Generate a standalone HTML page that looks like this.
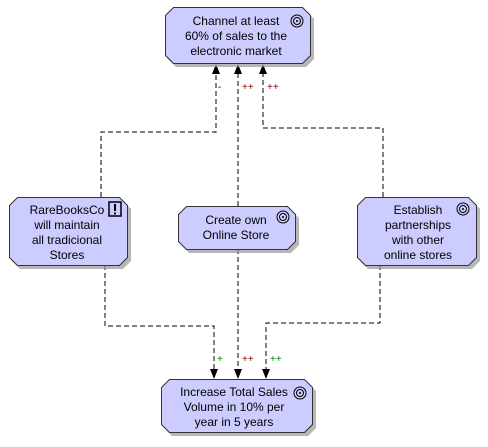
<!DOCTYPE html>
<html><head><style>body{margin:0;background:#fff}svg{display:block}text{font-family:"Liberation Sans",sans-serif;font-size:12px;fill:#000}</style></head>
<body>
<svg width="488" height="447" viewBox="0 0 488 447" xmlns="http://www.w3.org/2000/svg">
<defs>
<marker id="a" markerWidth="8" markerHeight="10" refX="4" refY="10" orient="auto-start-reverse" markerUnits="userSpaceOnUse"><path d="M0,0 L4,10 L8,0 Z" fill="#000"/></marker>
<g id="tgt"><circle r="6" fill="none" stroke="#000"/><circle r="3.5" fill="none" stroke="#000"/><circle r="1" fill="#000"/></g>
</defs>
<g fill="none" stroke="#000" stroke-dasharray="5,3">
<path d="M101,197 V132 H216 V70"/>
<path d="M238,206 V70"/>
<path d="M383,197 V128 H263 V70"/>
<path d="M105,265 V326 H214 V372"/>
<path d="M238,249 V372"/>
<path d="M380,265 V323 H266 V372"/>
</g>
<g fill="#000">
<path d="M212,74 L220,74 L216,64 Z"/><path d="M234,74 L242,74 L238,64 Z"/><path d="M259,74 L267,74 L263,64 Z"/>
<path d="M210,369 L218,369 L214,379 Z"/><path d="M234,369 L242,369 L238,379 Z"/><path d="M262,369 L270,369 L266,379 Z"/>
</g>
<g font-size="10">
<text x="218" y="90" style="font-size:10px;fill:#000">-</text>
<text x="242" y="90" style="font-size:10px;fill:#800000">++</text>
<text x="267" y="90" style="font-size:10px;fill:#800000">++</text>
<text x="217" y="362" style="font-size:10px;fill:#008000">+</text>
<text x="242" y="362" style="font-size:10px;fill:#800000">++</text>
<text x="270" y="362" style="font-size:10px;fill:#008000">++</text>
</g>
<g fill="#999" stroke="none" opacity="0.7">
<path d="M176,11 H306 L314,19 V59 L306,67 H176 L168,59 V19 Z"/>
<path d="M20,201 H123 L131,209 V261 L123,269 H20 L12,261 V209 Z"/>
<path d="M189,210 H291 L299,218 V245 L291,253 H189 L181,245 V218 Z"/>
<path d="M368,201 H472 L480,209 V261 L472,269 H368 L360,261 V209 Z"/>
<path d="M172,383 H308 L316,391 V428 L308,436 H172 L164,428 V391 Z"/>
</g>
<g fill="#ccccff" stroke="#333" stroke-width="1">
<path d="M173.5,7.5 H302.5 L310.5,15.5 V55.5 L302.5,63.5 H173.5 L165.5,55.5 V15.5 Z"/>
<path d="M17.5,197.5 H119.5 L127.5,205.5 V257.5 L119.5,265.5 H17.5 L9.5,257.5 V205.5 Z"/>
<path d="M186.5,206.5 H287.5 L295.5,214.5 V241.5 L287.5,249.5 H186.5 L178.5,241.5 V214.5 Z"/>
<path d="M365.5,197.5 H468.5 L476.5,205.5 V257.5 L468.5,265.5 H365.5 L357.5,257.5 V205.5 Z"/>
<path d="M169.5,379.5 H304.5 L312.5,387.5 V424.5 L304.5,432.5 H169.5 L161.5,424.5 V387.5 Z"/>
</g>
<use href="#tgt" x="297" y="21"/>
<use href="#tgt" x="283" y="217"/>
<use href="#tgt" x="463" y="209"/>
<use href="#tgt" x="300" y="393"/>
<rect x="109" y="202" width="12" height="14" fill="none" stroke="#000" stroke-width="1.5"/>
<rect x="114" y="204" width="2" height="7" fill="#000"/><rect x="114" y="212.5" width="2" height="2" fill="#000"/>
<g text-anchor="middle">
<text x="236" y="25">Channel at least</text>
<text x="236" y="40">60% of sales to the</text>
<text x="236" y="55">electronic market</text>
<text x="67" y="214">RareBooksCo</text>
<text x="67" y="229">will maintain</text>
<text x="67" y="244">all tradicional</text>
<text x="67" y="259">Stores</text>
<text x="236" y="224">Create own</text>
<text x="236" y="239">Online Store</text>
<text x="418" y="214">Establish</text>
<text x="418" y="229">partnerships</text>
<text x="418" y="244">with other</text>
<text x="418" y="259">online stores</text>
<text x="234" y="396">Increase Total Sales</text>
<text x="234" y="411">Volume in 10% per</text>
<text x="234" y="426">year in 5 years</text>
</g>
</svg>
</body></html>
